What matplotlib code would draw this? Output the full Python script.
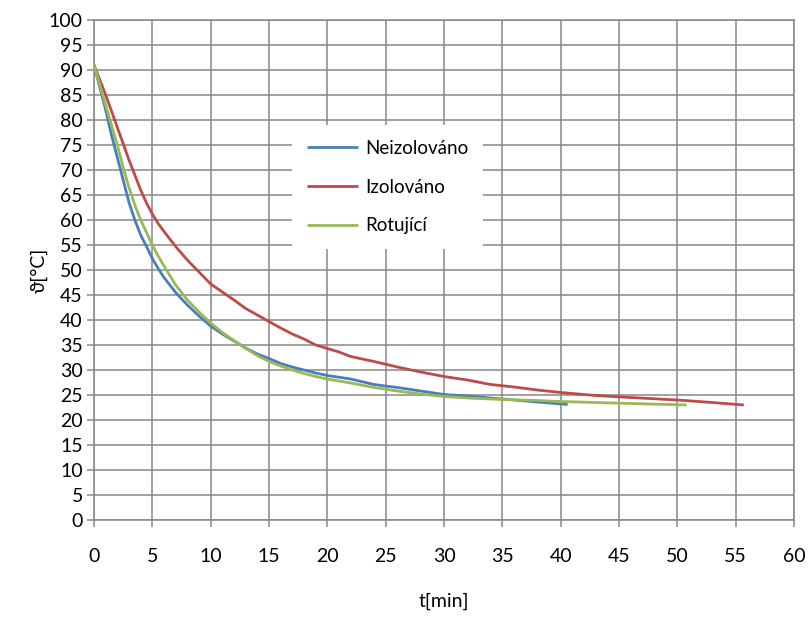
import matplotlib
matplotlib.use('Agg')
import matplotlib.pyplot as plt

# cooling curves, temperature [°C] vs time [min]
t_neizol = [0, 0.5, 1, 1.5, 2, 2.5, 3, 3.5, 4, 4.5, 5, 5.5, 6, 7, 8, 9, 10, 11, 12, 13, 14,
            15, 16, 17, 18, 19, 20, 22, 24, 26, 28, 30, 32, 34, 36, 38, 40.6]
T_neizol = [91, 86.5, 82, 77, 72.5, 68, 63.5, 60, 57, 54.7, 52.3, 50.3, 48.5, 45.5, 43, 40.8,
            38.8, 37.2, 35.8, 34.4, 33.2, 32.3, 31.3, 30.6, 30, 29.4, 28.9, 28.2, 27.1, 26.5,
            25.8, 25.1, 24.8, 24.4, 24, 23.6, 23.1]

t_izol = [0, 0.5, 1, 1.5, 2, 2.5, 3, 3.5, 4, 4.5, 5, 5.5, 6, 7, 8, 9, 10, 11, 12, 13, 14,
          15, 16, 17, 18, 19, 20, 21, 22, 24, 26, 28, 30, 32, 34, 36, 38, 40, 43, 46, 50,
          53, 55.7]
T_izol = [91, 88, 85, 81.8, 78.5, 75.3, 72, 69, 66, 63.4, 61.2, 59.3, 57.7, 54.7, 52, 49.6,
          47.2, 45.6, 44, 42.3, 41, 39.7, 38.4, 37.2, 36.2, 35, 34.3, 33.6, 32.7, 31.7, 30.6,
          29.6, 28.7, 28, 27.1, 26.6, 26, 25.5, 24.9, 24.5, 24, 23.5, 23]

t_rot = [0, 0.5, 1, 1.5, 2, 2.5, 3, 3.5, 4, 4.5, 5, 5.5, 6, 7, 8, 9, 10, 11, 12, 13, 14,
         15, 16, 17, 18, 19, 20, 22, 24, 26, 28, 30, 32, 35, 38, 40, 43, 46, 50.8]
T_rot = [91, 87, 83, 79, 75, 70.5, 66.5, 63, 60, 57.5, 55, 52.8, 50.8, 47, 44, 41.6,
         39.4, 37.5, 35.9, 34.3, 32.9, 31.7, 30.8, 30, 29.3, 28.7, 28.2, 27.4, 26.5, 25.8,
         25.2, 24.7, 24.4, 24.1, 23.9, 23.7, 23.5, 23.3, 23]

series = [
    ('Neizolováno', t_neizol, T_neizol, '#4A7EBB'),
    ('Izolováno', t_izol, T_izol, '#BE4B48'),
    ('Rotující', t_rot, T_rot, '#98B954'),
]

GRID = '#878787'
FONT = ['Lato', 'DejaVu Sans']
plt.rcParams['font.family'] = FONT

fig = plt.figure(figsize=(8.09, 6.21), dpi=100, facecolor='white')
ax = fig.add_axes([94 / 809, 1 - 520 / 621, 700 / 809, 500 / 621])

for name, t, T, c in series:
    ax.plot(t, T, color=c, linewidth=2.0, label=name, solid_capstyle='butt', zorder=3)

ax.set_xlim(0, 60)
ax.set_ylim(0, 100)
ax.set_xticks(range(0, 61, 5))
ax.set_yticks(range(0, 101, 5))
ax.grid(True, color=GRID, linewidth=1.1, zorder=0)
ax.set_axisbelow(True)
for s in ax.spines.values():
    s.set_color(GRID)
    s.set_linewidth(1.1)
ax.tick_params(axis='both', direction='out', length=5, width=1.1, color=GRID,
               labelsize=14, labelcolor='black')
ax.tick_params(axis='x', pad=15)
ax.tick_params(axis='y', pad=3)

ax.set_xlabel('t[min]', fontsize=14, labelpad=20)
ax.set_ylabel('ϑ[°C]', fontsize=14, labelpad=1)

leg = ax.legend(loc='upper left', bbox_to_anchor=(0.283, 0.79), fontsize=13.5,
                handlelength=2.7, handletextpad=0.4, labelspacing=1.15,
                borderpad=0.8, borderaxespad=0, fancybox=False, framealpha=1,
                facecolor='white', edgecolor='none')
leg.set_zorder(5)

fig.savefig('out.png', dpi=100, facecolor='white')
